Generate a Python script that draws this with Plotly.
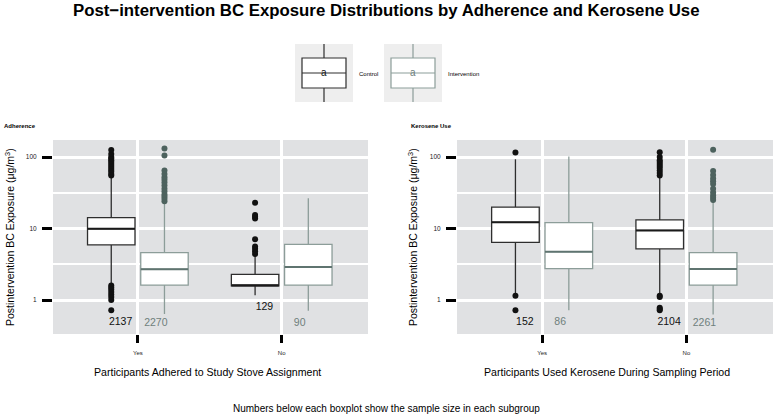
import numpy as np
import plotly.graph_objects as go

W, H = 773, 418
FONT = "Liberation Sans, Arial, Helvetica, sans-serif"

# ---------------- data ----------------
categories = ["Yes", "No"]
groups = ["Control", "Intervention"]

# Adherence panel, indexed [category][group]
adh_q1 = [[5.9, 1.62], [1.58, 1.62]]
adh_median = [[9.9, 2.7], [1.6, 2.9]]
adh_q3 = [[14.2, 4.6], [2.29, 6.0]]
adh_lower = [[1.7, 0.64], [1.17, 0.71]]
adh_upper = [[53, 23.5], [4.3, 26.5]]
adh_outliers = [
    [[55, 58, 62, 66, 70, 75, 80, 85, 90, 95, 100, 110, 125,
      1.6, 1.5, 1.4, 1.3, 1.2, 1.1, 1.0, 0.72],
     [24, 26, 28, 30, 33, 36, 40, 44, 48, 52, 58, 65, 105, 132]],
    [[4.4, 4.8, 5.2, 5.6, 7.1, 13.8, 14.6, 15.5, 23],
     []],
]
adh_n = [[2137, 2270], [129, 90]]

# Kerosene panel, indexed [category][group]
ker_q1 = [[6.4, 2.75], [5.2, 1.62]]
ker_median = [[12.2, 4.75], [9.4, 2.72]]
ker_q3 = [[19.9, 12.1], [13.2, 4.6]]
ker_lower = [[1.22, 0.72], [1.22, 0.63]]
ker_upper = [[93, 102], [51, 24]]
ker_outliers = [
    [[116, 1.15, 0.72],
     []],
    [[55, 60, 65, 70, 75, 80, 85, 90, 100, 117, 1.15, 1.1, 0.78, 0.75, 0.72],
     [25, 27, 29, 32, 36, 42, 46, 50, 56, 64, 126]],
]
ker_n = [[152, 86], [2104, 2261]]

# ---------------- styles ----------------
DODGE = 0.185
BOXW = 0.33
box_line = {"Control": "#2e2e2e", "Intervention": "#8c9d99"}
med_line = {"Control": "#1a1a1a", "Intervention": "#5f7470"}
pt_color = {"Control": "#111111", "Intervention": "#4d625e"}
lab_color = {"Control": "#111111", "Intervention": "#6f807c"}
PANEL_BG = "#e0e1e3"

fig = go.Figure()


def add_panel(xa, ya, q1, med, q3, lo, hi, outl, ns):
    for ci, cat in enumerate(categories):
        for gi, g in enumerate(groups):
            xc = ci + 1 + (-DODGE if gi == 0 else DODGE)
            fig.add_trace(go.Box(
                x=[xc], q1=[q1[ci][gi]], median=[med[ci][gi]], q3=[q3[ci][gi]],
                lowerfence=[lo[ci][gi]], upperfence=[hi[ci][gi]],
                width=BOXW, whiskerwidth=0, fillcolor="white",
                line=dict(color=box_line[g], width=1.3),
                boxpoints=False, showlegend=False, hoverinfo="skip",
                xaxis=xa, yaxis=ya))
            # thicker median line (ggplot style)
            fig.add_trace(go.Scatter(
                x=[xc - BOXW / 2, xc + BOXW / 2], y=[med[ci][gi]] * 2,
                mode="lines", line=dict(color=med_line[g], width=2),
                showlegend=False, hoverinfo="skip", xaxis=xa, yaxis=ya))
            if outl[ci][gi]:
                fig.add_trace(go.Scatter(
                    x=[xc] * len(outl[ci][gi]), y=outl[ci][gi], mode="markers",
                    marker=dict(color=pt_color[g], size=6),
                    showlegend=False, hoverinfo="skip", xaxis=xa, yaxis=ya))
            # sample size labels below each box
            lowest = min([lo[ci][gi]] + list(outl[ci][gi]))
            fig.add_trace(go.Scatter(
                x=[ci + 1 + (-0.12 if gi == 0 else 0.125)], y=[max(lowest * 0.67, 0.47)],
                mode="text", text=[str(ns[ci][gi])],
                textfont=dict(color=lab_color[g], size=10.5, family=FONT),
                showlegend=False, hoverinfo="skip", xaxis=xa, yaxis=ya))


add_panel("x", "y", adh_q1, adh_median, adh_q3, adh_lower, adh_upper, adh_outliers, adh_n)
add_panel("x2", "y2", ker_q1, ker_median, ker_q3, ker_lower, ker_upper, ker_outliers, ker_n)

ydom = [1 - 334 / H, 1 - 140 / H]
yax = dict(
    type="log", range=[np.log10(0.335), np.log10(173)], domain=ydom,
    tickvals=[1, 10, 100], ticktext=["1", "10", "100"],
    ticks="outside", ticklen=10, tickwidth=3, tickcolor="#000000",
    tickfont=dict(size=6.5, color="#222222", family=FONT), ticklabelstandoff=4,
    showgrid=True, gridcolor="white", gridwidth=3, zeroline=False, showline=False,
    minor=dict(tickvals=[np.sqrt(10), np.sqrt(1000)], showgrid=True,
               gridcolor="white", gridwidth=2, ticks=""),
)
xax = dict(
    range=[0.41, 2.6], tickvals=[1, 2], ticktext=categories,
    ticks="outside", ticklen=8, tickwidth=3, tickcolor="#000000",
    tickfont=dict(size=6, color="#222222", family=FONT), ticklabelstandoff=5,
    showgrid=True, gridcolor="white", gridwidth=3, zeroline=False, showline=False,
)

fig.update_layout(
    width=W, height=H, autosize=False,
    margin=dict(l=0, r=0, t=0, b=0),
    paper_bgcolor="white", plot_bgcolor=PANEL_BG,
    font=dict(family=FONT, color="#000000"),
    xaxis=dict(xax, domain=[53 / W, 368 / W], anchor="y"),
    yaxis=dict(yax, anchor="x"),
    xaxis2=dict(xax, domain=[457 / W, 1.0], anchor="y2"),
    yaxis2=dict(yax, anchor="x2"),
    showlegend=False,
)


def px(x):
    return x / W


def py(y):
    return 1 - y / H


ann = []
ann.append(dict(text="<b>Post\u2212intervention BC Exposure Distributions by Adherence and Kerosene Use</b>",
                x=px(386), y=py(11), xref="paper", yref="paper", showarrow=False,
                font=dict(size=16.8, family=FONT, color="#000000"), xanchor="center", yanchor="middle"))
ann.append(dict(text="<b>Adherence</b>", x=px(2), y=py(125.5), xref="paper", yref="paper",
                showarrow=False, font=dict(size=6, family=FONT), xanchor="left", yanchor="middle"))
ann.append(dict(text="<b>Kerosene Use</b>", x=px(409), y=py(125.5), xref="paper", yref="paper",
                showarrow=False, font=dict(size=6, family=FONT), xanchor="left", yanchor="middle"))
for xc, t in [(208, "Participants Adhered to Study Stove Assignment"),
              (607, "Participants Used Kerosene During Sampling Period")]:
    ann.append(dict(text=t, x=px(xc), y=py(372), xref="paper", yref="paper", showarrow=False,
                    font=dict(size=10.6, family=FONT), xanchor="center", yanchor="middle"))
for xc in [9, 412]:
    ann.append(dict(text="Postintervention BC Exposure (\u03bcg/m<sup>3</sup>)", textangle=-90,
                    x=px(xc), y=py(237), xref="paper", yref="paper", showarrow=False,
                    font=dict(size=10.5, family=FONT), xanchor="center", yanchor="middle"))
ann.append(dict(text="Numbers below each boxplot show the sample size in each subgroup",
                x=px(386), y=py(408), xref="paper", yref="paper", showarrow=False,
                font=dict(size=10, family=FONT), xanchor="center", yanchor="middle"))

# legend keys (drawn manually, ggplot style)
shapes = []
for g, bx0, lx in [("Control", 295, 357), ("Intervention", 384, 446)]:
    col = box_line[g]
    shapes.append(dict(type="rect", xref="paper", yref="paper", x0=px(bx0), x1=px(bx0 + 58),
                       y0=py(102), y1=py(44), fillcolor="#eeeeee", line=dict(width=0), layer="above"))
    cx = bx0 + 29
    shapes.append(dict(type="line", xref="paper", yref="paper", x0=px(cx), x1=px(cx),
                       y0=py(44), y1=py(58), line=dict(color=col, width=1.2), layer="above"))
    shapes.append(dict(type="line", xref="paper", yref="paper", x0=px(cx), x1=px(cx),
                       y0=py(88), y1=py(102), line=dict(color=col, width=1.2), layer="above"))
    shapes.append(dict(type="rect", xref="paper", yref="paper", x0=px(bx0 + 7), x1=px(bx0 + 51),
                       y0=py(88), y1=py(58), fillcolor="white", line=dict(color=col, width=1.2),
                       layer="above"))
    shapes.append(dict(type="line", xref="paper", yref="paper", x0=px(bx0 + 7), x1=px(bx0 + 51),
                       y0=py(73), y1=py(73), line=dict(color=col, width=1.2), layer="above"))
    ann.append(dict(text="a", x=px(cx), y=py(73), xref="paper", yref="paper", showarrow=False,
                    font=dict(size=10, family=FONT, color=lab_color[g]), xanchor="center",
                    yanchor="middle"))
    ann.append(dict(text=g, x=px(lx), y=py(74), xref="paper", yref="paper", showarrow=False,
                    font=dict(size=6, family=FONT), xanchor="left", yanchor="middle"))

fig.update_layout(annotations=ann, shapes=shapes)
fig.write_html("out.html", post_script="document.body.style.margin='0';",
               config={"displayModeBar": False})
